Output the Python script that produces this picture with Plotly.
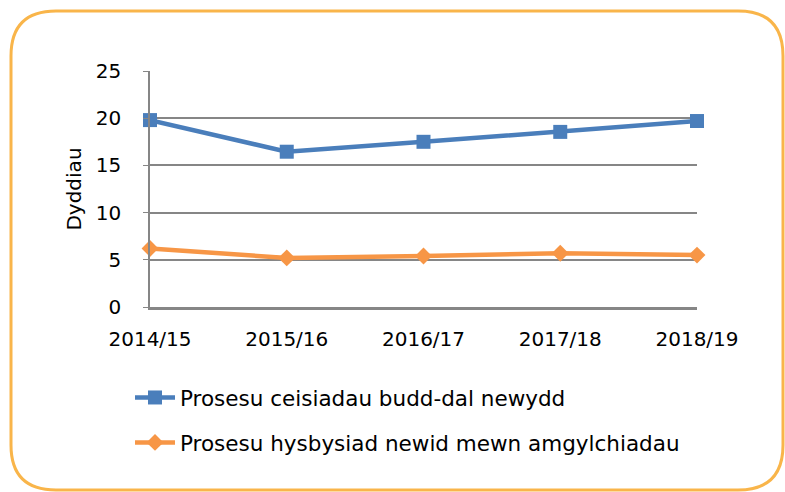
import plotly.graph_objects as go

categories = ["2014/15", "2015/16", "2016/17", "2017/18", "2018/19"]
claims_new = [19.8, 16.45, 17.5, 18.55, 19.7]
change_circ = [6.2, 5.2, 5.4, 5.7, 5.5]
series_names = ["Prosesu ceisiadau budd-dal newydd",
                "Prosesu hysbysiad newid mewn amgylchiadau"]
y_ticks = [0, 5, 10, 15, 20, 25]

W, H = 785, 492
L, R, T, B = 150, 88, 71, 185
pw, ph = W - L - R, H - T - B

def px(x):
    return (x - L) / pw

def py(y):
    return (H - B - y) / ph

FONT = "DejaVu Sans, sans-serif"

fig = go.Figure()
fig.add_trace(go.Scatter(
    x=categories, y=claims_new, name=series_names[0], mode="lines+markers",
    line=dict(color="#4a7ebb", width=4.5),
    marker=dict(symbol="square", size=14, color="#4a7ebb"),
    cliponaxis=False, legendgroup="a"))
fig.add_trace(go.Scatter(
    x=categories, y=change_circ, name=series_names[1], mode="lines+markers",
    line=dict(color="#f79646", width=4.5),
    marker=dict(symbol="diamond", size=13, color="#f79646"),
    cliponaxis=False, legendgroup="b"))

# rounded border
x0, x1, y0, y1, r = 11, 783, 11, 490, 45
rx, ry = r / pw, r / ph
X0, X1, Y0, Y1 = px(x0), px(x1), py(y0), py(y1)
path = (f"M{X0 + rx},{Y0} L{X1 - rx},{Y0} Q{X1},{Y0} {X1},{Y0 - ry} "
        f"L{X1},{Y1 + ry} Q{X1},{Y1} {X1 - rx},{Y1} L{X0 + rx},{Y1} "
        f"Q{X0},{Y1} {X0},{Y1 + ry} L{X0},{Y0 - ry} Q{X0},{Y0} {X0 + rx},{Y0} Z")
fig.add_shape(type="path", path=path, xref="paper", yref="paper",
              line=dict(color="#f9b54a", width=3), layer="below")

fig.update_layout(
    width=W, height=H,
    margin=dict(l=L, r=R, t=T, b=B),
    paper_bgcolor="white", plot_bgcolor="white",
    font=dict(family=FONT, size=20, color="black"),
    showlegend=True,
    legend=dict(x=px(130), y=py(377), xanchor="left", yanchor="top",
                traceorder="grouped", tracegroupgap=14,
                font=dict(size=21.5, family=FONT), itemwidth=40,
                bgcolor="rgba(0,0,0,0)"),
    xaxis=dict(range=[0, 4], type="category", showgrid=False,
               showline=True, linecolor="#868686", linewidth=2.5,
               ticks="", tickfont=dict(size=20), ticklabelstandoff=12,
               fixedrange=True),
    yaxis=dict(range=[0, 25], tickvals=y_ticks, showgrid=True,
               gridcolor="#868686", gridwidth=1.5,
               showline=True, linecolor="#868686", linewidth=1.5,
               ticks="outside", ticklen=5, tickcolor="#868686",
               ticklabelstandoff=18,
               title=dict(text="Dyddiau", font=dict(size=20), standoff=9),
               tickfont=dict(size=20), zeroline=False),
)

fig.write_html("out.html", config={"displayModeBar": False},
               post_script="document.body.style.margin='0';")
